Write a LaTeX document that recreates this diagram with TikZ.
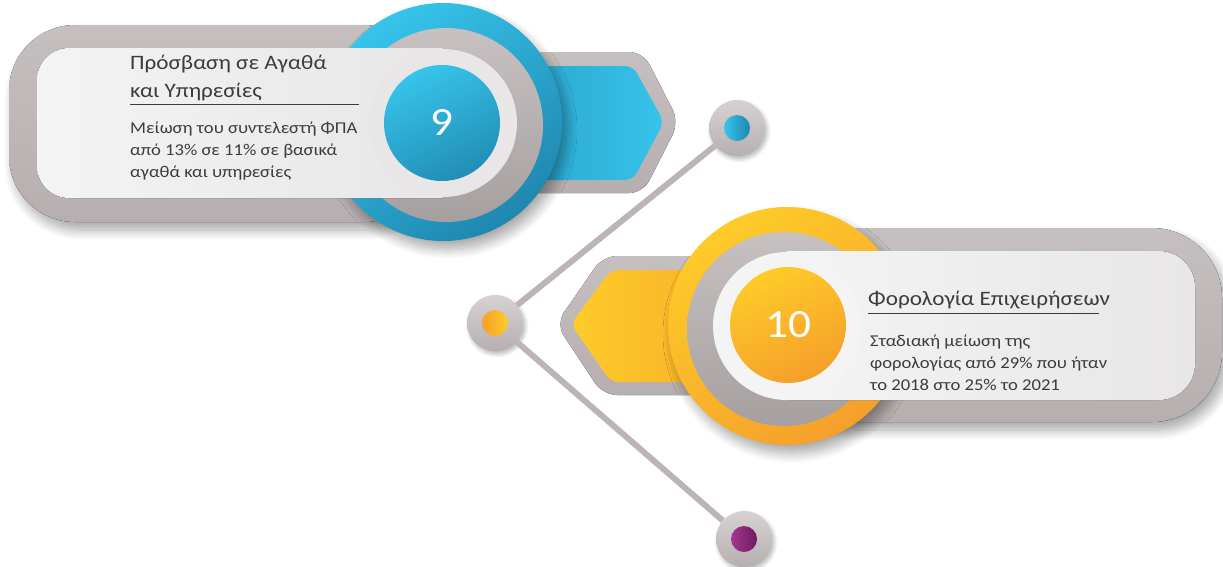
\documentclass[tikz,border=0pt]{standalone}
\usepackage{fontspec}
\setmainfont[FakeStretch=1.13]{Carlito}
\usetikzlibrary{shadows.blur}
\definecolor{greyO}{HTML}{C6BFBF}
\definecolor{greyOd}{HTML}{B7AFAF}
\definecolor{greyR}{HTML}{B9B1B1}
\definecolor{lightA}{HTML}{F4F4F4}
\definecolor{lightB}{HTML}{E8E6E6}
\definecolor{blueL}{HTML}{37C4EB}
\definecolor{blueD}{HTML}{1F87B0}
\definecolor{yelL}{HTML}{FECB29}
\definecolor{yelD}{HTML}{F59F2B}
\definecolor{purL}{HTML}{A2388F}
\definecolor{purD}{HTML}{6E1A5E}
\definecolor{txt}{HTML}{3C3C3C}
\definecolor{lineG}{HTML}{BDB5B5}
\begin{document}
\begin{tikzpicture}[x=1pt,y=-1pt,
  outerpill/.style={top color=greyO, bottom color=greyOd},
  ringgrey/.style={circle, inner sep=0pt, minimum size=194pt, top color=greyR!80!white, bottom color=greyR!90!black},
  lightfill/.style={left color=lightA, right color=lightB},
  bigshadow/.style={blur shadow={shadow xshift=5pt, shadow yshift=-8pt, shadow blur radius=10pt, shadow blur steps=12, shadow opacity=35}},
  smallshadow/.style={blur shadow={shadow xshift=2pt, shadow yshift=-3pt, shadow blur radius=4pt, shadow blur steps=8, shadow opacity=30}},
  title/.style={anchor=base west, inner sep=0pt, text=txt, font=\fontsize{20.5}{24}\selectfont},
  body/.style={anchor=base west, inner sep=0pt, text=txt, font=\fontsize{16.5}{20}\selectfont},
  num/.style={text=white, font=\fontsize{40}{40}\selectfont},
  dotouter/.style={circle, inner sep=0pt, minimum size=56pt, top color=greyO!70!white, bottom color=greyOd, smallshadow},
  dotinner/.style={circle, inner sep=0pt, minimum size=26pt},
  conn/.style={draw=lineG, line width=6pt}
]
\useasboundingbox (0,0) rectangle (1223,566);

% ================= item 9 (blue) =================
\fill[outerpill, rounded corners=14] (380,52) -- (643,52) -- (679,122) -- (643,193) -- (380,193) -- cycle;
\shade[left color=blueD, right color=blueL, rounded corners=8] (380,66) -- (633,66) -- (664,122) -- (633,180) -- (380,180) -- cycle;
\fill[outerpill, rounded corners=66, bigshadow] (9,25) rectangle (430,222);
\node[circle, inner sep=0pt, minimum size=238pt, top color=blueL, bottom color=blueD, shading angle=35, bigshadow] (b9) at (443,122) {};
\node[ringgrey] (r9) at (446,125) {};
\fill[lightfill] (443,48) {[rounded corners=32] -- (37,48) -- (37,198)} -- (443,198) -- cycle;
\node[circle, inner sep=0pt, minimum size=148pt, fill=lightB] (l9) at (443,123) {};
\node[circle, inner sep=0pt, minimum size=116pt, top color=blueL, bottom color=blueD!90!blueL, shading angle=25] (n9) at (442,123) {};
\node[num] at (n9) {9};

\node[title] (t9a) at (130,69) {Πρόσβαση σε Αγαθά};
\node[title] (t9b) at (130,97) {και Υπηρεσίες};
\draw[txt, line width=0.8pt] (130,104) -- (359,104);
\node[body] at (130,133) {Μείωση του συντελεστή ΦΠΑ};
\node[body] at (130,155) {από 13\% σε 11\% σε βασικά};
\node[body] at (130,177) {αγαθά και υπηρεσίες};

% ================= item 10 (yellow) =================
\fill[outerpill, rounded corners=14] (820,256) -- (603,256) -- (556,324) -- (603,395) -- (820,395) -- cycle;
\shade[left color=yelL, right color=yelD, rounded corners=8] (820,270) -- (611,270) -- (571,324) -- (611,382) -- (820,382) -- cycle;
\fill[outerpill, rounded corners=70, bigshadow] (780,228) rectangle (1222,422);
\node[circle, inner sep=0pt, minimum size=238pt, top color=yelL, bottom color=yelD, shading angle=35, bigshadow] (b10) at (787,326) {};
\node[ringgrey] (r10) at (784,329) {};
\fill[lightfill] (787,251) {[rounded corners=36] -- (1195,251) -- (1195,400)} -- (787,400) -- cycle;
\node[circle, inner sep=0pt, minimum size=148pt, fill=lightA] (l10) at (787,326) {};
\node[circle, inner sep=0pt, minimum size=116pt, top color=yelL, bottom color=yelD, shading angle=25] (n10) at (788,325) {};
\node[num] at (n10) {10};

\node[title] at (868,305) {Φορολογία Επιχειρήσεων};
\draw[txt, line width=0.8pt] (868,313) -- (1099,313);
\node[body] at (870,346) {Σταδιακή μείωση της};
\node[body] at (870,368) {φορολογίας από 29\% που ήταν};
\node[body] at (870,390) {το 2018 στο 25\% το 2021};

% ================= connectors =================
\node[dotouter] (c1) at (737,128) {};
\node[dotouter] (c2) at (495,323) {};
\node[dotouter] (c3) at (744,539) {};
\node[dotinner, left color=blueL, right color=blueD] at (c1) {};
\node[dotinner, left color=yelD, right color=yelL] at (c2) {};
\node[dotinner, left color=purL, right color=purD] at (c3) {};
\draw[conn] (c2) -- (c1);
\draw[conn] (c2) -- (c3);
\end{tikzpicture}
\end{document}
